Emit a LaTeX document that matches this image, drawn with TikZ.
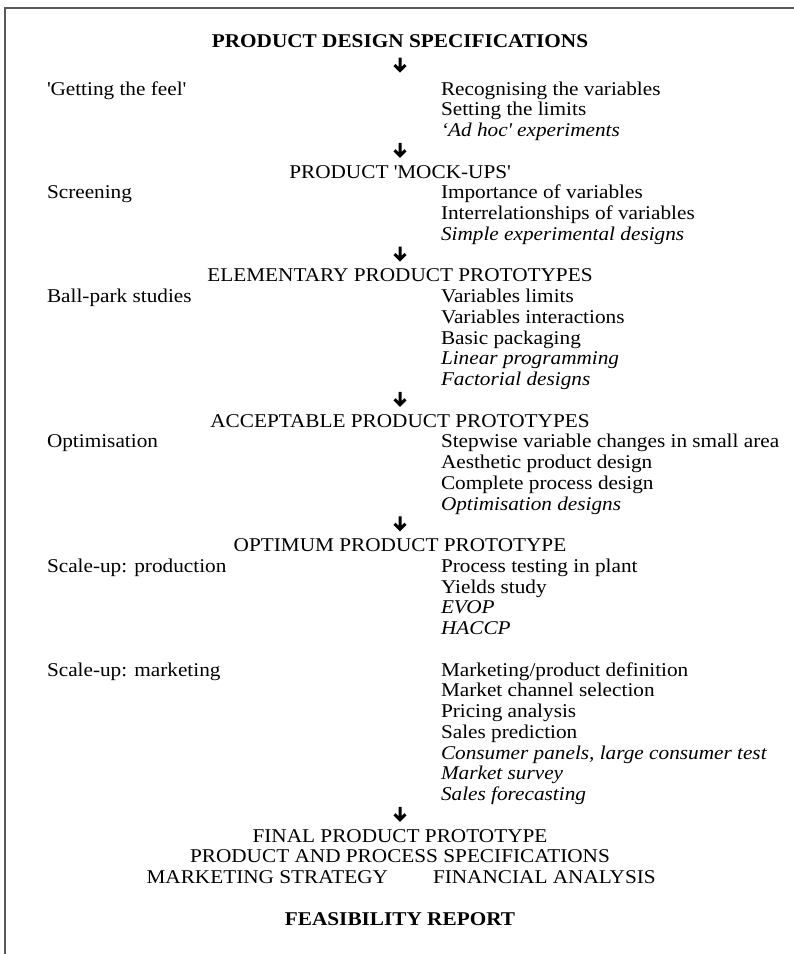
\documentclass[tikz,border=0pt]{standalone}
\usepackage{fontspec}
\setmainfont[FakeStretch=1.09]{Liberation Serif}
\begin{document}
\begin{tikzpicture}[x=1pt,y=-1pt,
  every node/.style={inner sep=0pt,outer sep=0pt,font=\fontsize{19.5}{20.75}\selectfont},
  lft/.style={anchor=base west},
  rgt/.style={anchor=base west},
  mid/.style={anchor=base},
  hd/.style={anchor=base,font=\fontsize{19.5}{20.75}\selectfont\bfseries},
  it/.style={font=\fontsize{19.5}{20.75}\selectfont\itshape},
  frame/.style={draw=black!65,line width=1.8pt},
  downarr/.pic={\draw[line width=3pt,line join=miter,line cap=butt]
      (0,-7.5)--(0,5.5) (-5.5,0)--(0,5.5)--(5.5,0);}]
\useasboundingbox (0,0) rectangle (794,954);
% open frame: top and left edges only
\draw[frame] (794,8) -- (5,8) -- (5,954);

% columns: left x = 47, right x = 441, centre x = 400
\node[hd] (pds) at (400,47) {PRODUCT DESIGN SPECIFICATIONS};
\pic at (400,65) {downarr};
\node[lft] (feel) at (47,95) {\textquotesingle Getting the feel\textquotesingle};
\node[rgt] (f1) at (441,95) {Recognising the variables};
\node[rgt] (f2) at (441,115.75) {Setting the limits};
\node[rgt,it] (f3) at (441,136.5) {`Ad hoc\textquotesingle\ experiments};
\pic at (400,150.25) {downarr};

\node[mid] (mock) at (400,178) {PRODUCT \textquotesingle MOCK-UPS\textquotesingle};
\node[lft] (scr) at (47,198.75) {Screening};
\node[rgt] (s1) at (441,198.75) {Importance of variables};
\node[rgt] (s2) at (441,219.5) {Interrelationships of variables};
\node[rgt,it] (s3) at (441,240.25) {Simple experimental designs};
\pic at (400,254) {downarr};

\node[mid] (elem) at (400,281.75) {ELEMENTARY PRODUCT PROTOTYPES};
\node[lft] (ball) at (47,302.5) {Ball-park studies};
\node[rgt] (b1) at (441,302.5) {Variables limits};
\node[rgt] (b2) at (441,323.25) {Variables interactions};
\node[rgt] (b3) at (441,344) {Basic packaging};
\node[rgt,it] (b4) at (441,364.75) {Linear programming};
\node[rgt,it] (b5) at (441,385.5) {Factorial designs};
\pic at (400,399.25) {downarr};

\node[mid] (acc) at (400,427) {ACCEPTABLE PRODUCT PROTOTYPES};
\node[lft] (opt) at (47,447.75) {Optimisation};
\node[rgt] (o1) at (441,447.75) {Stepwise variable changes in small area};
\node[rgt] (o2) at (441,468.5) {Aesthetic product design};
\node[rgt] (o3) at (441,489.25) {Complete process design};
\node[rgt,it] (o4) at (441,510) {Optimisation designs};
\pic at (400,523.75) {downarr};

\node[mid] (optp) at (400,551.5) {OPTIMUM PRODUCT PROTOTYPE};
\node[lft] (sup) at (47,572.25) {Scale-up: production};
\node[rgt] (p1) at (441,572.25) {Process testing in plant};
\node[rgt] (p2) at (441,593) {Yields study};
\node[rgt,it] (p3) at (441,613.75) {EVOP};
\node[rgt,it] (p4) at (441,634.5) {HACCP};

\node[lft] (sum) at (47,676) {Scale-up: marketing};
\node[rgt] (m1) at (441,676) {Marketing/product definition};
\node[rgt] (m2) at (441,696.75) {Market channel selection};
\node[rgt] (m3) at (441,717.5) {Pricing analysis};
\node[rgt] (m4) at (441,738.25) {Sales prediction};
\node[rgt,it] (m5) at (441,759) {Consumer panels, large consumer test};
\node[rgt,it] (m6) at (441,779.75) {Market survey};
\node[rgt,it] (m7) at (441,800.5) {Sales forecasting};
\pic at (400,814.25) {downarr};

\node[mid] (fin) at (400,842) {FINAL PRODUCT PROTOTYPE};
\node[mid] (spec) at (400,862.75) {PRODUCT AND PROCESS SPECIFICATIONS};
\node[anchor=base east] (mkt) at (388,883.5) {MARKETING STRATEGY};
\node[anchor=base west] (fa) at (433,883.5) {FINANCIAL ANALYSIS};
\node[hd] (feas) at (400,925) {FEASIBILITY REPORT};
\end{tikzpicture}
\end{document}
